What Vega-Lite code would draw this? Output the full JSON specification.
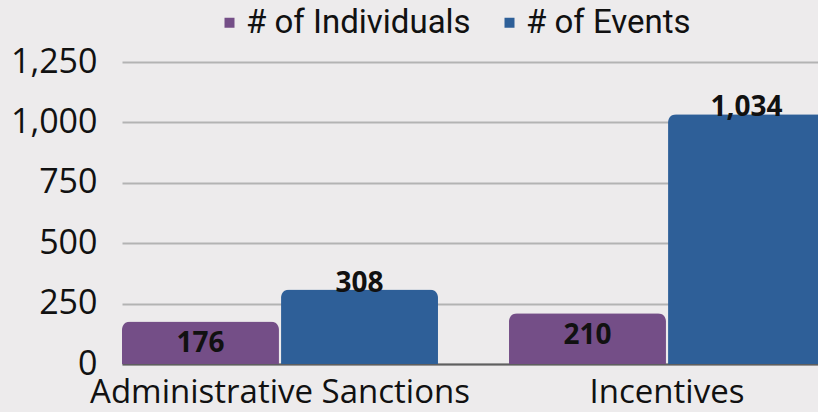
{
  "$schema": "https://vega.github.io/schema/vega-lite/v6.json",
  "width": 703,
  "height": 302,
  "autosize": {"type": "none"},
  "padding": {"left": 122, "top": 62, "right": 0, "bottom": 48},
  "background": "#edebec",
  "config": {"view": {"stroke": null}},
  "data": {"values": [
    {"category": "Administrative Sanctions", "series": "# of Individuals", "value": 176},
    {"category": "Administrative Sanctions", "series": "# of Events", "value": 308},
    {"category": "Incentives", "series": "# of Individuals", "value": 210},
    {"category": "Incentives", "series": "# of Events", "value": 1034}
  ]},
  "encoding": {
    "x": {"field": "category", "type": "nominal", "sort": null,
      "scale": {"paddingInner": 0.1835, "paddingOuter": 0},
      "axis": {"title": null, "labelAngle": 0, "labelFont": "Open Sans", "labelFontSize": 33, "labelColor": "#111111", "labelLimit": 600,
        "ticks": false, "labelPadding": 12, "domainColor": "#5f5f5f", "domainWidth": 2, "grid": false}},
    "xOffset": {"field": "series", "type": "nominal", "sort": ["# of Individuals", "# of Events"], "scale": {"paddingInner": 0.013}},
    "y": {"field": "value", "type": "quantitative",
      "scale": {"domain": [0, 1250]},
      "axis": {"title": null, "values": [0, 250, 500, 750, 1000, 1250], "format": ",d", "domain": false, "ticks": false,
        "labelPadding": 25, "labelFont": "Open Sans", "labelFontSize": 34, "labelColor": "#111111",
        "gridColor": "#b3b3b3", "gridWidth": 2}}
  },
  "layer": [
    {
      "mark": {"type": "bar", "cornerRadiusTopLeft": 8, "cornerRadiusTopRight": 8},
      "encoding": {
        "color": {"field": "series", "type": "nominal",
          "scale": {"domain": ["# of Individuals", "# of Events"], "range": ["#744e87", "#2e5f98"]},
          "legend": {"title": null, "orient": "none", "direction": "horizontal", "legendX": 91, "legendY": -56,
            "symbolType": "square", "symbolSize": 100, "symbolStrokeWidth": 0, "labelFont": "Roboto",
            "labelFontSize": 33, "labelColor": "#111111", "labelOffset": 0, "columnPadding": 22, "labelLimit": 400}}
      }
    },
    {
      "transform": [{"filter": "datum.series === '# of Individuals'"}],
      "mark": {"type": "text", "baseline": "top", "dy": 9, "font": "Open Sans", "fontWeight": "bold", "fontSize": 28, "color": "#111111"},
      "encoding": {"text": {"field": "value", "type": "quantitative", "format": ",d"}}
    },
    {
      "transform": [{"filter": "datum.series === '# of Events'"}],
      "mark": {"type": "text", "baseline": "alphabetic", "dy": 2, "font": "Open Sans", "fontWeight": "bold", "fontSize": 28, "color": "#111111"},
      "encoding": {"text": {"field": "value", "type": "quantitative", "format": ",d"}}
    }
  ]
}
